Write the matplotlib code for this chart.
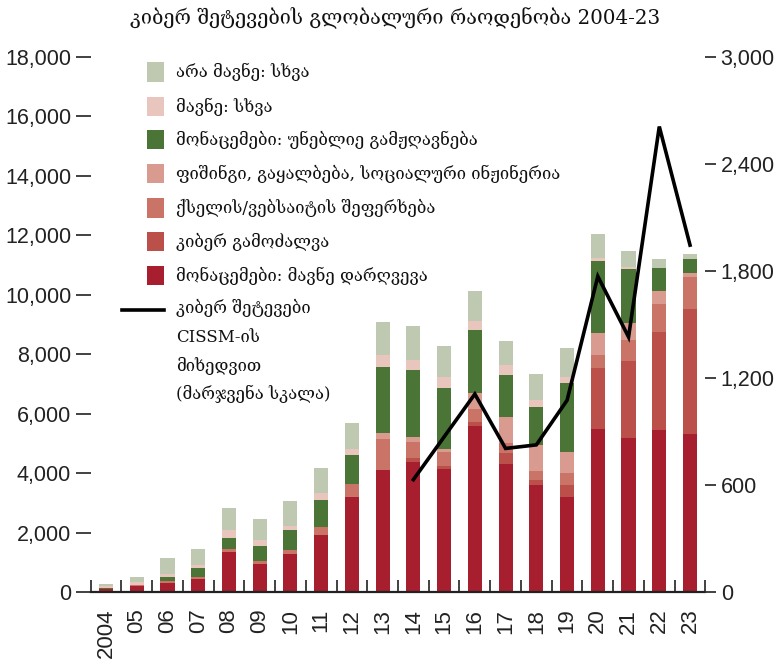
import matplotlib
matplotlib.use('Agg')
import matplotlib.pyplot as plt
from matplotlib.patches import Rectangle
from matplotlib.lines import Line2D
import numpy as np

W, H = 779, 664

years = ['2004', '05', '06', '07', '08', '09', '10', '11', '12', '13',
         '14', '15', '16', '17', '18', '19', '20', '21', '22', '23']

breach       = [90, 200, 310, 450, 1360, 955, 1280, 1930, 3185, 4105,
                4385, 4140, 5575, 4320, 3610, 3205, 5500, 5195, 5450, 5305]
extortion    = [0, 0, 0, 0, 0, 0, 0, 0, 0, 0,
                110, 110, 135, 360, 170, 405, 2020, 2580, 3285, 4205]
ddos         = [20, 20, 45, 45, 100, 100, 135, 270, 440, 1030,
                560, 470, 450, 335, 280, 395, 460, 720, 955, 1100]
phishing     = [0, 0, 0, 0, 0, 0, 0, 0, 0, 200,
                145, 90, 540, 875, 900, 705, 740, 540, 450, 110]
disclosure   = [20, 30, 145, 300, 350, 505, 675, 900, 975, 2245,
                2265, 2065, 2110, 1400, 1270, 2320, 2425, 1830, 775, 495]
mal_other    = [70, 80, 100, 100, 260, 200, 135, 225, 200, 390,
                335, 350, 305, 350, 245, 200, 100, 55, 0, 0]
nonmal_other = [80, 170, 560, 560, 760, 705, 830, 840, 875, 1120,
                1145, 1065, 1010, 810, 865, 965, 785, 550, 305, 170]

cissm_years = ['14', '15', '16', '17', '18', '19', '20', '21', '22', '23']
cissm = [630, 870, 1110, 805, 825, 1075, 1770, 1430, 2610, 1945]

series = [breach, extortion, ddos, phishing, disclosure, mal_other, nonmal_other]
labels = ['მონაცემები: მავნე დარღვევა',
          'კიბერ გამოძალვა',
          'ქსელის/ვებსაიტის შეფერხება',
          'ფიშინგი, გაყალბება, სოციალური ინჟინერია',
          'მონაცემები: უნებლიე გამჟღავნება',
          'მავნე: სხვა',
          'არა მავნე: სხვა']
colors = ['#a71e2f', '#bb4f49', '#c97467', '#d99b8f', '#4a7536', '#e9c6bd', '#bfc9b1']
line_label = ['კიბერ შეტევები', 'CISSM-ის', 'მიხედვით', '(მარჯვენა სკალა)']
title = 'კიბერ შეტევების გლობალური რაოდენობა 2004-23'

num_font = ['Liberation Sans', 'DejaVu Sans']
geo_font = ['DejaVu Serif', 'DejaVu Sans']

fig = plt.figure(figsize=(W / 100, H / 100), dpi=100)
ax_l, ax_r = 90.6, 705.4
ax_b, ax_t = 592, 57
ax = fig.add_axes([ax_l / W, 1 - ax_b / H, (ax_r - ax_l) / W, (ax_b - ax_t) / H])

x = np.arange(len(years))
bottom = np.zeros(len(years))
for vals, c in zip(series, colors):
    v = np.array(vals, dtype=float)
    ax.bar(x, v, width=0.46, bottom=bottom, color=c, linewidth=0, zorder=2)
    bottom += v

ax.set_xlim(-0.5, 19.5)
ax.set_ylim(0, 18000)
yt = np.arange(0, 18001, 2000)
ax.set_yticks(yt)
ax.set_yticklabels([f'{int(v):,}' for v in yt], family=num_font, fontsize=15.5, color='#222222')
ax.tick_params(axis='y', direction='out', length=11, width=1.3, pad=3, color='#333333')
ax.set_xticks(x)
ax.set_xticklabels(years, rotation=90, family=num_font, fontsize=16, color='#222222')
ax.set_xticks(np.arange(-0.5, 19.6, 1), minor=True)
ax.tick_params(axis='x', which='major', length=0, pad=12)
ax.tick_params(axis='x', which='minor', direction='in', length=9, width=1.3, color='#333333')
for s in ['left', 'right', 'top']:
    ax.spines[s].set_visible(False)
ax.spines['bottom'].set_linewidth(1.6)
ax.spines['bottom'].set_color('#222222')
ax.spines['bottom'].set_zorder(5)

ax2 = ax.twinx()
ax2.set_ylim(0, 3000)
rt = np.arange(0, 3001, 600)
ax2.set_yticks(rt)
ax2.set_yticklabels([f'{int(v):,}' for v in rt], family=num_font, fontsize=15.5, color='#222222')
ax2.tick_params(axis='y', direction='out', length=8, width=1.3, pad=3, color='#333333')
for s in ['left', 'right', 'top', 'bottom']:
    ax2.spines[s].set_visible(False)
xl = [years.index(y) for y in cissm_years]
ax2.plot(xl, cissm, color='black', lw=2.6, zorder=6, solid_joinstyle='miter')

fig.text(395 / W, 1 - 18 / H, title, ha='center', va='center', fontsize=14.3,
         family=geo_font, color='#111111')

# legend (drawn manually)
centers = [72, 106.5, 139.5, 173.5, 208, 241.5, 275.5]
for i, cy in enumerate(centers):
    idx = len(series) - 1 - i
    fig.patches.append(Rectangle((147 / W, 1 - (cy + 9.7) / H), 16.7 / W, 19.4 / H,
                                 transform=fig.transFigure, facecolor=colors[idx],
                                 edgecolor='none', figure=fig))
    fig.text(176 / W, 1 - cy / H, labels[idx], ha='left', va='center', fontsize=12,
             family=geo_font, color='#111111')
fig.lines.append(Line2D([122 / W, 164 / W], [1 - 310 / H, 1 - 310 / H],
                        transform=fig.transFigure, color='black', lw=2.6, figure=fig))
for j, (t, cy) in enumerate(zip(line_label, [308, 337, 366, 394])):
    fig.text(176 / W, 1 - cy / H, t, ha='left', va='center', fontsize=12,
             family=geo_font, color='#111111')

fig.savefig('out.png', dpi=100)
